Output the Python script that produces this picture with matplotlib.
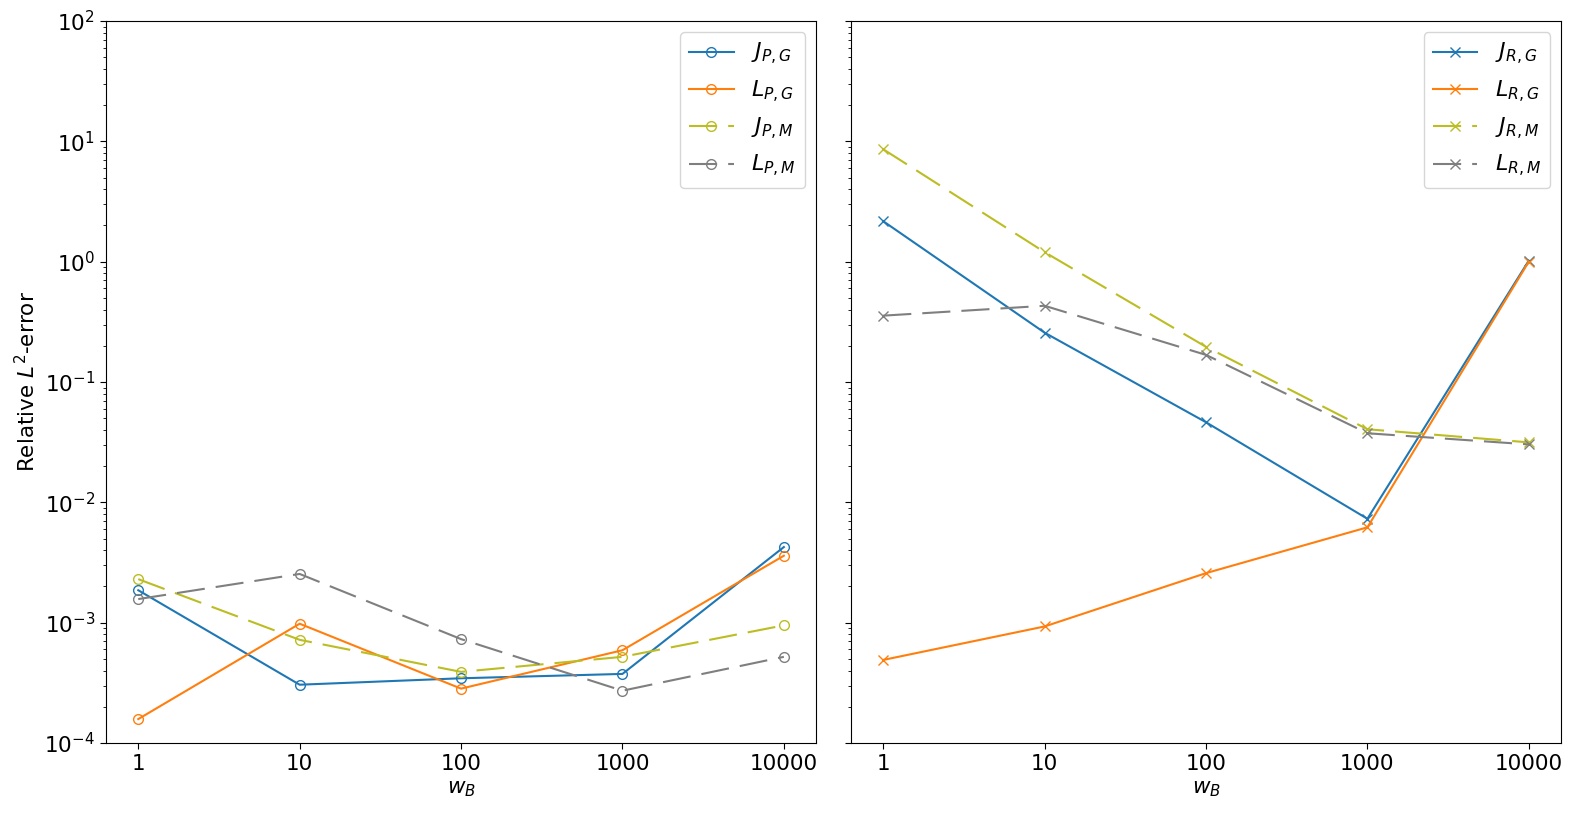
import matplotlib
matplotlib.use("Agg")
import matplotlib.pyplot as plt
import numpy as np

plt.rcParams["font.size"] = 15.5
plt.rcParams["xtick.major.size"] = 4.3
plt.rcParams["ytick.major.size"] = 4.3
plt.rcParams["ytick.minor.size"] = 2.4

w_b = ["1", "10", "100", "1000", "10000"]

# left panel (P)
j_pg = [1.86e-3, 3.05e-4, 3.45e-4, 3.75e-4, 4.25e-3]
l_pg = [1.58e-4, 9.8e-4, 2.83e-4, 5.9e-4, 3.6e-3]
j_pm = [2.3e-3, 7.2e-4, 3.9e-4, 5.2e-4, 9.5e-4]
l_pm = [1.57e-3, 2.54e-3, 7.3e-4, 2.72e-4, 5.2e-4]

# right panel (R)
j_rg = [2.17, 0.257, 0.0463, 7.3e-3, 1.02]
l_rg = [4.9e-4, 9.3e-4, 2.58e-3, 6.2e-3, 1.0]
j_rm = [8.6, 1.2, 0.196, 0.0405, 0.0315]
l_rm = [0.356, 0.43, 0.168, 0.0375, 0.0303]

x = np.arange(len(w_b))
DASH = (0, (13.5, 5.3))
LW = 1.5
MS = 7

fig, (ax1, ax2) = plt.subplots(1, 2, figsize=(15.77, 8.18), sharey=True)
fig.subplots_adjust(left=0.0672, right=0.9899, bottom=0.0917, top=0.9743, wspace=0.049)

ax1.plot(x, j_pg, color="tab:blue", marker="o", mfc="none", ms=MS, lw=LW, label=r"$J_{P,G}$")
ax1.plot(x, l_pg, color="tab:orange", marker="o", mfc="none", ms=MS, lw=LW, label=r"$L_{P,G}$")
ax1.plot(x, j_pm, color="tab:olive", marker="o", mfc="none", ms=MS, lw=LW, ls=DASH, label=r"$J_{P,M}$")
ax1.plot(x, l_pm, color="tab:gray", marker="o", mfc="none", ms=MS, lw=LW, ls=DASH, label=r"$L_{P,M}$")

ax2.plot(x, j_rg, color="tab:blue", marker="x", ms=MS, lw=LW, label=r"$J_{R,G}$")
ax2.plot(x, l_rg, color="tab:orange", marker="x", ms=MS, lw=LW, label=r"$L_{R,G}$")
ax2.plot(x, j_rm, color="tab:olive", marker="x", ms=MS, lw=LW, ls=DASH, label=r"$J_{R,M}$")
ax2.plot(x, l_rm, color="tab:gray", marker="x", ms=MS, lw=LW, ls=DASH, label=r"$L_{R,M}$")

ax1.set_yscale("log")
ax1.set_ylim(1e-4, 1e2)
ax1.set_ylabel(r"Relative $L^2$-error")

for ax in (ax1, ax2):
    ax.set_xticks(x)
    ax.set_xticklabels(w_b)
    ax.set_xlabel(r"$w_B$")
    ax.legend(loc="upper right", fontsize=16)

fig.savefig("out.png", dpi=100)
